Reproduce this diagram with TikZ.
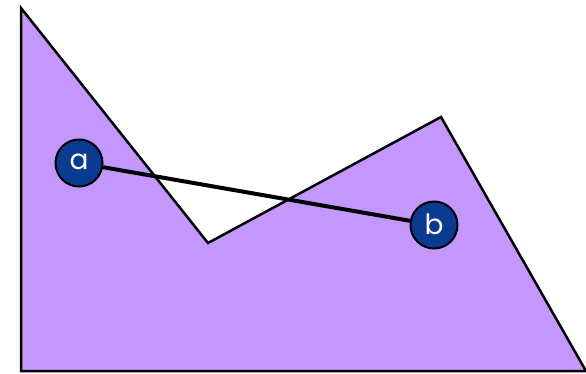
\documentclass[tikz,border=0pt]{standalone}
\usepackage{fontspec}
\setmainfont{Poppins}
\definecolor{polyfill}{HTML}{C497FE}
\definecolor{nodeblue}{HTML}{0B3A91}
\tikzset{
  pt/.style={circle, fill=nodeblue, draw=black, line width=2pt, minimum size=47pt, inner sep=0pt, text=white, font=\fontsize{28}{28}\selectfont},
  poly/.style={fill=polyfill, draw=black, line width=2.5pt, line join=miter},
  seg/.style={draw=black, line width=4pt}
}
\begin{document}
\begin{tikzpicture}[x=1pt,y=-1pt]
\useasboundingbox (0,0) rectangle (586,374);
\path[poly] (21,8) -- (208,243) -- (441,117) -- (586,371) -- (21,371) -- cycle;
\node[pt] (a) at (79,163) {\raisebox{2pt}{a}};
\node[pt] (b) at (434,225) {\raisebox{2pt}{b}};
\draw[seg] (a) -- (b);
\end{tikzpicture}
\end{document}
